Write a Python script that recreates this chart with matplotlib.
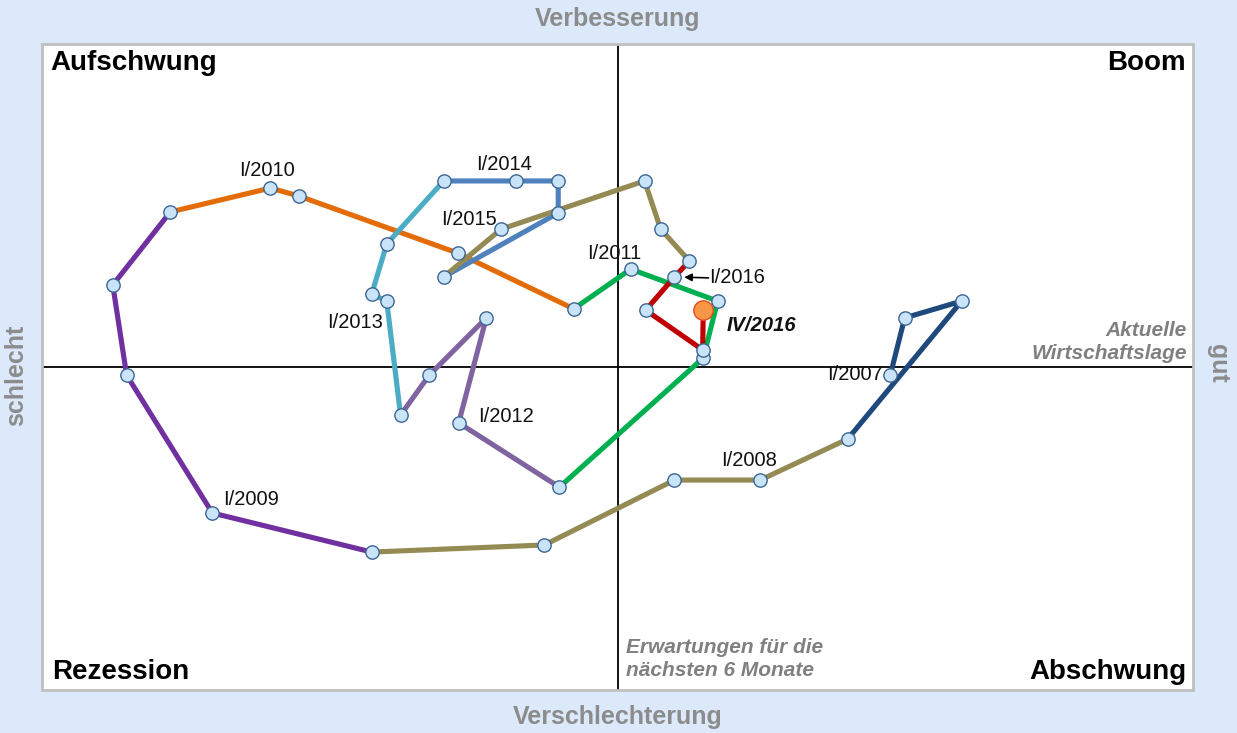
import matplotlib
matplotlib.use("Agg")
import matplotlib.pyplot as plt
import numpy as np

plt.rcParams["font.family"] = ["Liberation Sans", "DejaVu Sans"]

# Konjunkturuhr: aktuelle Lage (x) gegen Erwartungen (y), quartalsweise
years = [2007, 2008, 2009, 2010, 2011, 2012, 2013, 2014, 2015, 2016]
quarters = ["I", "II", "III", "IV"]

lage = [
    4.74, 4.99, 5.98, 4.00,      # 2007
    2.48, 0.99, -1.27, -4.27,    # 2008
    -7.04, -8.53, -8.77, -7.77,  # 2009
    -6.03, -5.53, -2.78, -0.76,  # 2010
    0.23, 1.74, 1.49, -1.01,     # 2011
    -2.76, -2.28, -3.27, -3.77,  # 2012
    -4.01, -4.27, -4.01, -3.02,  # 2013
    -1.77, -1.03, -1.03, -3.02,  # 2014
    -2.02, 0.47, 0.75, 1.25,     # 2015
    0.99, 0.49, 1.48, 1.49,      # 2016
]
erwartungen = [
    -0.25, 1.52, 2.04, -2.23,
    -3.50, -3.50, -5.51, -5.73,
    -4.52, -0.25, 2.54, 4.80,
    5.54, 5.29, 3.53, 1.80,
    3.03, 2.04, 0.28, -3.72,
    -1.73, 1.52, -0.25, -1.49,
    2.04, 2.26, 3.81, 5.76,
    5.76, 5.76, 4.77, 2.79,
    4.27, 5.76, 4.27, 3.28,
    2.79, 1.76, 0.53, 1.76,
]
year_colors = ["#1f497d", "#948a54", "#7030a0", "#e36c09", "#00b050",
               "#8064a2", "#4bacc6", "#4f81bd", "#948a54", "#c00000"]

lage = np.array(lage)
erwartungen = np.array(erwartungen)
labels = [f"{q}/{y}" for y in years for q in quarters]

bg = "#dce9fb"
grey = "#808080"

fig = plt.figure(figsize=(12.37, 7.33), dpi=100, facecolor=bg)
ax = fig.add_axes([42 / 1237, 43 / 733, 1151 / 1237, 646 / 733])
ax.set_xlim(-10, 10)
ax.set_ylim(-10, 10)
ax.set_xticks([])
ax.set_yticks([])
for s in ax.spines.values():
    s.set_color("#c0c0c0")
    s.set_linewidth(2)

ax.axhline(0, color="black", lw=1.3, zorder=1)
ax.axvline(0, color="black", lw=1.3, zorder=1)

# lines: each year coloured from the previous year's last quarter onwards
for i, col in enumerate(year_colors):
    start = max(4 * i - 1, 0)
    end = 4 * i + 4
    ax.plot(lage[start:end], erwartungen[start:end], color=col, lw=3.7,
            solid_joinstyle="round", solid_capstyle="round", zorder=2)

ax.plot(lage[:-1], erwartungen[:-1], "o", ms=9.6, mfc="#c9e4f8", mec="#3c6694",
        mew=1.0, zorder=3)
ax.plot(lage[-1], erwartungen[-1], "o", ms=14, mfc="#f79646", mec="#e0501e",
        mew=1.0, zorder=4)

# quarter labels (offsets in pixels)
label_pos = {
    "I/2007": (-7, 1, "right"),
    "I/2008": (-11, 20, "center"),
    "I/2009": (11, 13, "left"),
    "I/2010": (-3, 18, "center"),
    "I/2011": (-16, 16, "center"),
    "I/2012": (19, 6, "left"),
    "I/2013": (-32, -21, "center"),
    "I/2014": (-12, 16, "center"),
    "I/2015": (-32, 10, "center"),
}
for lab, (dx, dy, ha) in label_pos.items():
    k = labels.index(lab)
    ax.annotate(lab, (lage[k], erwartungen[k]), xytext=(dx, dy),
                textcoords="offset pixels", ha=ha, va="center", fontsize=14.5,
                color="#111111", zorder=5)

k = labels.index("I/2016")
ax.annotate("", (lage[k], erwartungen[k]), xytext=(34, -1), textcoords="offset pixels",
            arrowprops=dict(arrowstyle="-|>", color="black", lw=1.2,
                            shrinkA=0, shrinkB=7, mutation_scale=11), zorder=5)
ax.annotate("I/2016", (lage[k], erwartungen[k]), xytext=(35, -1),
            textcoords="offset pixels", ha="left", va="center", fontsize=14.5,
            color="#111111", zorder=5)
ax.annotate("IV/2016", (lage[-1], erwartungen[-1]), xytext=(23, -15),
            textcoords="offset pixels", ha="left", va="center", fontsize=14.5,
            fontweight="bold", fontstyle="italic", color="#111111", zorder=5)

# quadrant names
qkw = dict(fontsize=20, fontweight="bold", color="black", transform=ax.transAxes)
ax.text(8 / 1151, 1 - 19 / 646, "Aufschwung", ha="left", va="center", **qkw)
ax.text(1 - 7 / 1151, 1 - 19 / 646, "Boom", ha="right", va="center", **qkw)
ax.text(10 / 1151, 18 / 646, "Rezession", ha="left", va="center", **qkw)
ax.text(1 - 7 / 1151, 18 / 646, "Abschwung", ha="right", va="center", **qkw)

# axis descriptions
ax.text(1 - 6 / 1151, 0.5 + 25 / 646, "Aktuelle\nWirtschaftslage", ha="right",
        va="center", fontsize=15, fontweight="bold", fontstyle="italic",
        color=grey, linespacing=1.3, transform=ax.transAxes)
ax.text(0.5 + 8 / 1151, 31 / 646, "Erwartungen für die\nnächsten 6 Monate", ha="left",
        va="center", fontsize=15, fontweight="bold", fontstyle="italic",
        color=grey, linespacing=1.25, transform=ax.transAxes)

fkw = dict(fontsize=18, fontweight="bold", color="#8c8c8c")
fig.text(618 / 1237, 1 - 19 / 733, "Verbesserung", ha="center", va="center", **fkw)
fig.text(618 / 1237, 1 - 717 / 733, "Verschlechterung", ha="center", va="center", **fkw)
fig.text(16 / 1237, 1 - 375 / 733, "schlecht", ha="center", va="center", rotation=90, **fkw)
fig.text(1218 / 1237, 1 - 363 / 733, "gut", ha="center", va="center", rotation=-90, **fkw)

fig.savefig("out.png", dpi=100, facecolor=bg)
